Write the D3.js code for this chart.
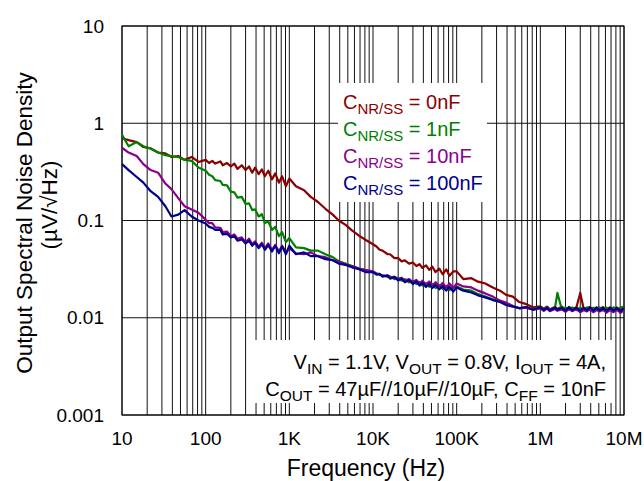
<!DOCTYPE html>
<html>
<head>
<meta charset="utf-8">
<script src="https://cdn.jsdelivr.net/npm/d3@7"></script>
<style>
  html, body { margin: 0; padding: 0; background: #fff; }
  svg { display: block; }
  text { font-family: "Liberation Sans", Arial, sans-serif; fill: #000; }
</style>
</head>
<body>
<svg id="chart" width="644" height="481"></svg>
<script>
// ---- Data ----
const freqs = [
  10,12,15,18,22,27,33,39,47,56,68,82,
  100,110,120,130,150,160,180,200,220,240,270,300,330,360,390,430,470,510,560,620,680,750,820,910,
  1e3,1.2e3,1.5e3,1.8e3,2.2e3,2.7e3,3.3e3,3.9e3,4.7e3,5.6e3,6.8e3,8.2e3,
  1e4,1.1e4,1.2e4,1.3e4,1.5e4,1.6e4,1.8e4,2e4,2.2e4,2.4e4,2.7e4,3e4,3.3e4,3.6e4,3.9e4,4.3e4,4.7e4,5.1e4,5.6e4,6.2e4,6.8e4,7.5e4,8.2e4,9.1e4,
  1e5,1.2e5,1.5e5,1.8e5,2.2e5,2.7e5,3.3e5,3.9e5,4.7e5,5.6e5,6.8e5,8.2e5,
  1e6,1.1e6,1.2e6,1.3e6,1.5e6,1.6e6,1.8e6,2e6,2.2e6,2.4e6,2.7e6,3e6,3.3e6,3.6e6,3.9e6,4.3e6,4.7e6,5.1e6,5.6e6,6.2e6,6.8e6,7.5e6,8.2e6,9.1e6,
  1e7
];
const noise0nF = [
  0.70,0.67,0.64,0.57,0.55,0.50,0.49,0.45,0.46,0.42,0.45,0.40,
  0.42,0.39,0.41,0.385,0.405,0.37,0.39,0.36,0.385,0.34,0.37,0.33,0.36,0.31,0.35,0.30,0.335,0.285,0.325,0.265,0.305,0.245,0.285,0.225,
  0.27,0.225,0.205,0.175,0.155,0.132,0.115,0.100,0.090,0.079,0.070,0.063,
  0.057,0.054,0.050,0.049,0.045,0.045,0.041,0.041,0.038,0.039,0.036,0.037,0.034,0.0355,0.0325,0.0345,0.031,0.0335,0.0295,0.032,0.028,0.0315,0.027,0.030,
  0.030,0.025,0.0255,0.0235,0.0225,0.0205,0.019,0.0172,0.0165,0.0145,0.0138,0.0128,
  0.0131,0.0124,0.013,0.0122,0.0129,0.0123,0.013,0.0121,0.0129,0.0122,0.0128,0.018,0.0123,0.0125,0.0129,0.012,0.0128,0.0121,0.0129,0.012,0.0128,0.0119,0.0128,0.012,
  0.0127
];
const noise1nF = [
  0.76,0.58,0.64,0.58,0.55,0.50,0.47,0.46,0.45,0.42,0.41,0.35,
  0.325,0.295,0.285,0.26,0.255,0.232,0.23,0.198,0.195,0.172,0.175,0.148,0.15,0.128,0.13,0.11,0.116,0.094,0.098,0.08,0.086,0.069,0.076,0.06,
  0.066,0.053,0.052,0.049,0.049,0.045,0.042,0.038,0.036,0.034,0.032,0.031,
  0.0292,0.0285,0.0276,0.0274,0.0262,0.0266,0.025,0.0258,0.024,0.0249,0.0231,0.024,0.0222,0.0233,0.0214,0.0227,0.0208,0.0222,0.0202,0.0216,0.0198,0.0212,0.0192,0.0207,
  0.021,0.0195,0.019,0.0175,0.0165,0.0155,0.0148,0.0138,0.0132,0.0125,0.0128,0.0122,
  0.0128,0.0123,0.0127,0.0121,0.0128,0.018,0.0123,0.0127,0.0121,0.0128,0.012,0.0127,0.0122,0.0128,0.012,0.0127,0.0121,0.0128,0.0119,0.0127,0.012,0.0128,0.0119,0.0127,
  0.013
];
const noise10nF = [
  0.56,0.50,0.46,0.38,0.33,0.31,0.24,0.21,0.17,0.14,0.13,0.12,
  0.102,0.094,0.094,0.085,0.084,0.076,0.077,0.069,0.072,0.065,0.067,0.06,0.065,0.057,0.061,0.054,0.059,0.052,0.058,0.05,0.056,0.048,0.055,0.047,
  0.052,0.046,0.045,0.047,0.043,0.042,0.039,0.038,0.035,0.034,0.032,0.031,
  0.030,0.0285,0.0283,0.027,0.0273,0.0258,0.0265,0.025,0.0258,0.0241,0.025,0.0233,0.0245,0.0226,0.024,0.022,0.0236,0.0214,0.0232,0.021,0.0228,0.0205,0.0225,0.0202,
  0.0225,0.021,0.0205,0.019,0.0178,0.0165,0.015,0.0143,0.0132,0.0125,0.0127,0.0121,
  0.0125,0.0118,0.0124,0.0117,0.0123,0.0118,0.0122,0.0115,0.0123,0.0117,0.0122,0.0114,0.012,0.0116,0.0122,0.0114,0.012,0.0116,0.0121,0.0113,0.012,0.0114,0.0121,0.0112,
  0.012
];
const noise100nF = [
  0.38,0.33,0.28,0.245,0.20,0.175,0.14,0.11,0.115,0.128,0.11,0.10,
  0.093,0.086,0.084,0.08,0.08,0.072,0.073,0.067,0.069,0.062,0.064,0.058,0.062,0.055,0.059,0.052,0.057,0.05,0.056,0.048,0.055,0.046,0.054,0.045,
  0.055,0.045,0.047,0.043,0.043,0.040,0.039,0.036,0.035,0.033,0.0315,0.0295,
  0.0295,0.0278,0.0282,0.0265,0.0272,0.0252,0.0262,0.0242,0.0253,0.0232,0.0244,0.0222,0.0236,0.0214,0.0229,0.0207,0.0223,0.0202,0.0218,0.0196,0.0212,0.019,0.0208,0.0186,
  0.0205,0.019,0.0182,0.017,0.0162,0.0152,0.0145,0.0135,0.013,0.0126,0.0129,0.0121,
  0.0128,0.012,0.0127,0.0119,0.0128,0.012,0.0127,0.0118,0.0128,0.0119,0.0127,0.0118,0.0126,0.0119,0.0128,0.0118,0.0127,0.0119,0.0126,0.0117,0.0127,0.0118,0.0126,0.0117,
  0.0126
];
const seriesLabels = ["0nF", "1nF", "10nF", "100nF"];
const seriesColors = ["#8b0000", "#008000", "#8b008b", "#00008b"];
const xTickValues = [10, 100, 1e3, 1e4, 1e5, 1e6, 1e7];
const xTickLabels = ["10", "100", "1K", "10K", "100K", "1M", "10M"];
const yTickValues = [10, 1, 0.1, 0.01, 0.001];
const yTickLabels = ["10", "1", "0.1", "0.01", "0.001"];

const allSeries = [noise0nF, noise1nF, noise10nF, noise100nF];

// ---- Layout ----
const svg = d3.select("#chart");
const L = 122, R = 624, T = 26, B = 415;

const x = d3.scaleLog().domain([10, 1e7]).range([L, R]);
const y = d3.scaleLog().domain([0.001, 10]).range([B, T]);

// vertical grid (1..9 per decade)
svg.append("g").selectAll("line")
  .data(x.ticks())
  .join("line")
  .attr("x1", d => x(d)).attr("x2", d => x(d))
  .attr("y1", T).attr("y2", B)
  .attr("stroke", "#111").attr("stroke-width", 1);

// horizontal grid (decades)
svg.append("g").selectAll("line")
  .data(yTickValues)
  .join("line")
  .attr("x1", L).attr("x2", R)
  .attr("y1", d => y(d)).attr("y2", d => y(d))
  .attr("stroke", "#111").attr("stroke-width", 1);

// white boxes behind legend & annotation
svg.append("rect").attr("x", 338).attr("y", 83).attr("width", 149).attr("height", 119).attr("fill", "#fff");
svg.append("rect").attr("x", 255).attr("y", 340).attr("width", 360).attr("height", 63).attr("fill", "#fff");

// frame
svg.append("rect").attr("x", L).attr("y", T).attr("width", R - L).attr("height", B - T)
  .attr("fill", "none").attr("stroke", "#000").attr("stroke-width", 1);

// curves
const line = d3.line()
  .x((d, i) => x(freqs[i]))
  .y(d => y(d));
svg.append("g").selectAll("path")
  .data(allSeries)
  .join("path")
  .attr("d", d => line(d))
  .attr("fill", "none")
  .attr("stroke", (d, i) => seriesColors[i])
  .attr("stroke-width", 2.2)
  .attr("stroke-linejoin", "round");

// y tick labels
svg.append("g").selectAll("text")
  .data(yTickValues)
  .join("text")
  .attr("x", 104).attr("y", d => y(d))
  .attr("dy", "0.35em")
  .attr("text-anchor", "end")
  .attr("font-size", 19)
  .text((d, i) => yTickLabels[i]);

// x tick labels
svg.append("g").selectAll("text")
  .data(xTickValues)
  .join("text")
  .attr("x", d => x(d)).attr("y", 445)
  .attr("text-anchor", "middle")
  .attr("font-size", 19)
  .text((d, i) => xTickLabels[i]);

// axis titles
svg.append("text").attr("x", 366).attr("y", 476)
  .attr("text-anchor", "middle").attr("font-size", 23)
  .text("Frequency (Hz)");
svg.append("text")
  .attr("transform", "translate(32,223) rotate(-90)")
  .attr("text-anchor", "middle").attr("font-size", 22.5)
  .text("Output Spectral Noise Density");
svg.append("text")
  .attr("transform", "translate(57,205) rotate(-90)")
  .attr("text-anchor", "middle").attr("font-size", 22.5)
  .text("(µV/√Hz)");

// legend
const legY = [109, 136, 163, 190];
seriesLabels.forEach((lab, i) => {
  const t = svg.append("text").attr("x", 343).attr("y", legY[i])
    .attr("font-size", 20).style("fill", seriesColors[i]);
  t.append("tspan").text("C");
  t.append("tspan").attr("dy", 5).attr("font-size", 15).text("NR/SS");
  t.append("tspan").attr("dy", -5).text(" = " + lab);
});

// annotation
const a1 = svg.append("text").attr("x", 606).attr("y", 369)
  .attr("text-anchor", "end").attr("font-size", 20);
a1.append("tspan").text("V");
a1.append("tspan").attr("dy", 5).attr("font-size", 15.5).text("IN");
a1.append("tspan").attr("dy", -5).text(" = 1.1V, V");
a1.append("tspan").attr("dy", 5).attr("font-size", 15.5).text("OUT");
a1.append("tspan").attr("dy", -5).text(" = 0.8V, I");
a1.append("tspan").attr("dy", 5).attr("font-size", 15.5).text("OUT");
a1.append("tspan").attr("dy", -5).text(" = 4A,");

const a2 = svg.append("text").attr("x", 606).attr("y", 396)
  .attr("text-anchor", "end").attr("font-size", 20);
a2.append("tspan").text("C");
a2.append("tspan").attr("dy", 5).attr("font-size", 15.5).text("OUT");
a2.append("tspan").attr("dy", -5).text(" = 47µF//10µF//10µF, C");
a2.append("tspan").attr("dy", 5).attr("font-size", 15.5).text("FF");
a2.append("tspan").attr("dy", -5).text(" = 10nF");
</script>
</body>
</html>
